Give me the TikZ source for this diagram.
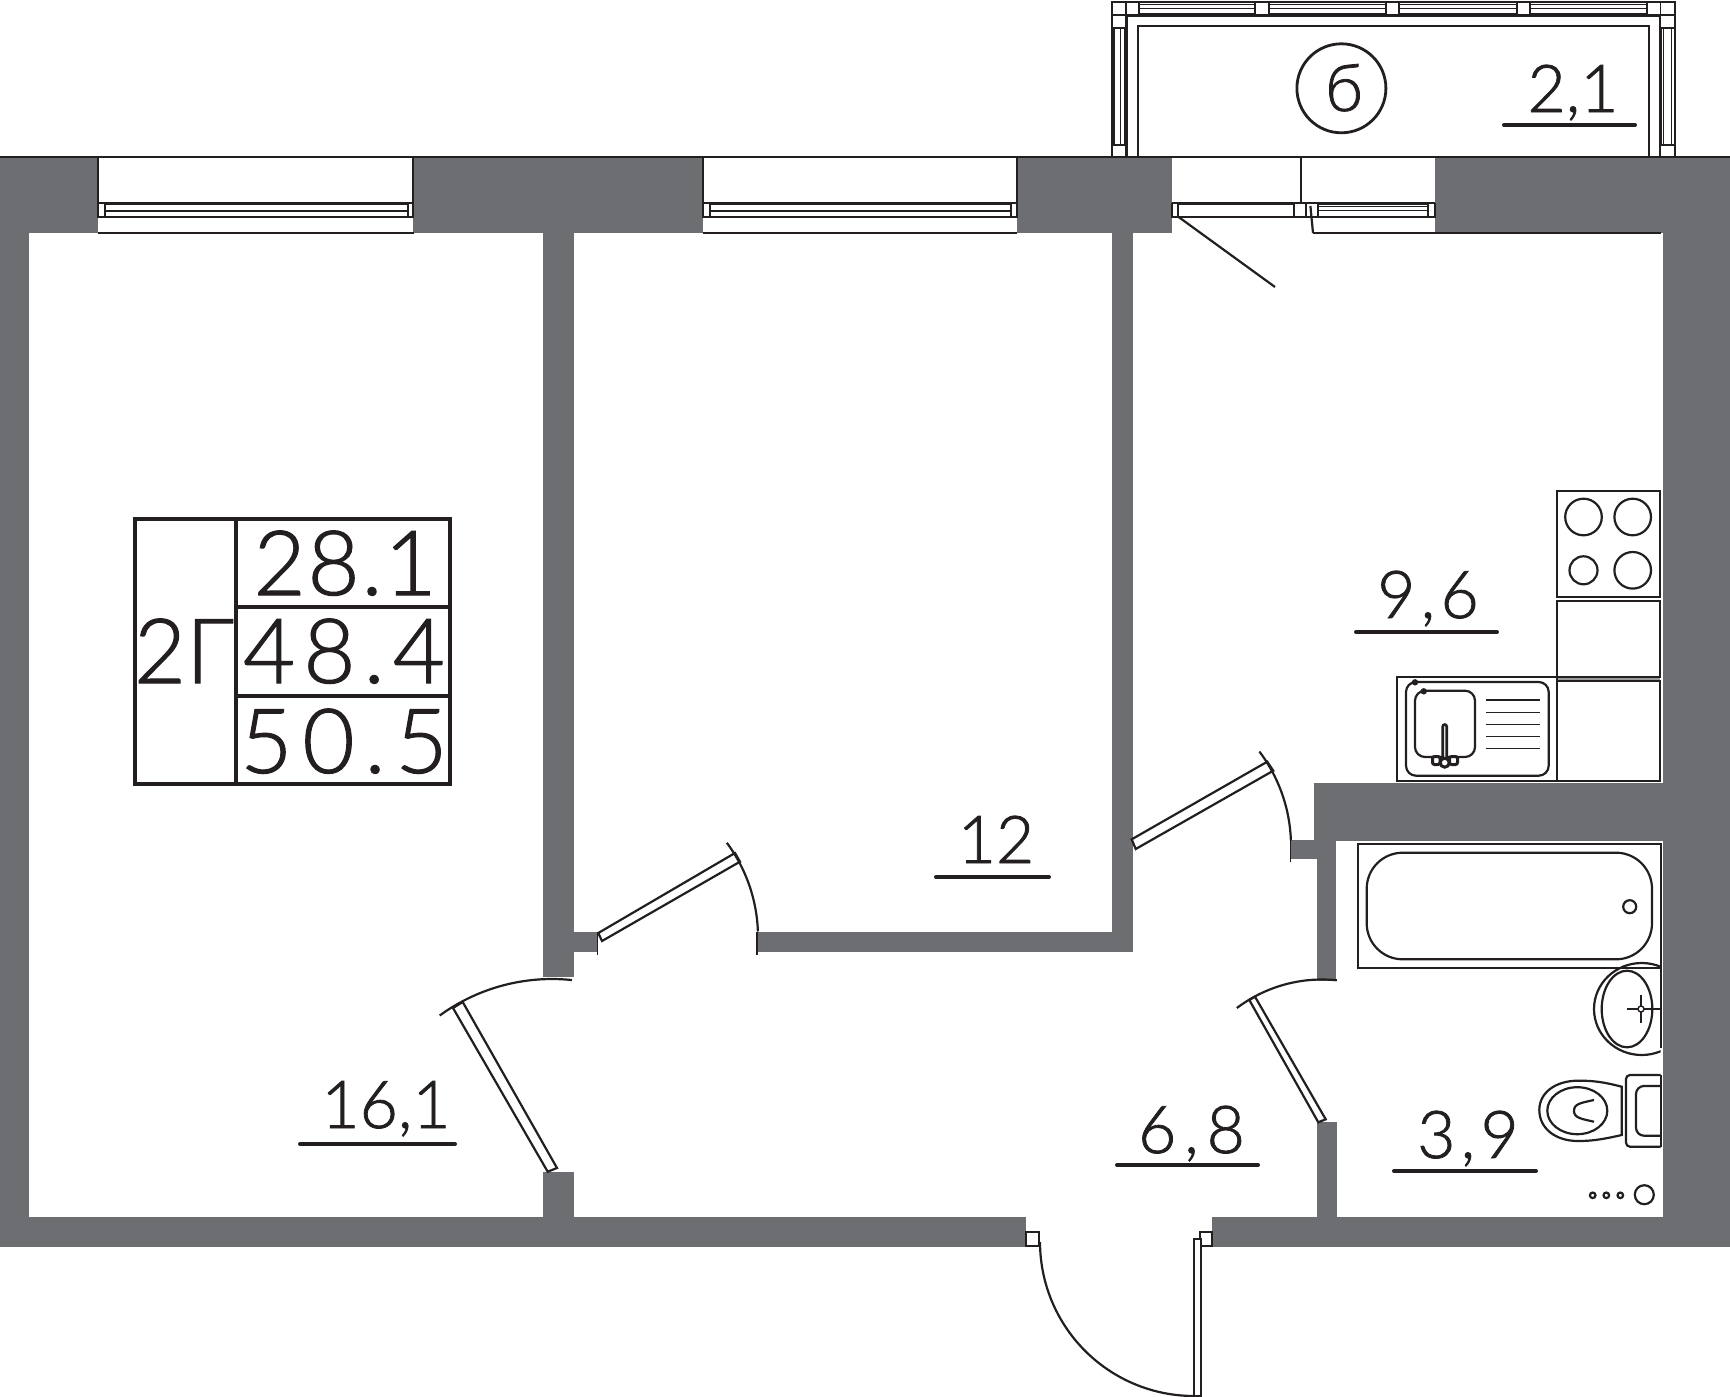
\documentclass[tikz,border=0pt]{standalone}
\usepackage{fontspec}
\newfontfamily\planfont[FakeBold=1.2]{Lato Light}
\def\spread#1{\addfontfeature{LetterSpace=#1}}
\definecolor{wallgray}{HTML}{6D6E71}
\definecolor{inkline}{HTML}{231F20}
\def\swingarc(#1,#2)(#3:#4:#5){\draw[thinline] plot[domain=#3:#4,samples=30,smooth] ({#1+#5*cos(\x)},{#2-#5*sin(\x)});}
\tikzset{
	wallfill/.style={fill=wallgray,draw=none},
	thinline/.style={draw=inkline,line width=1.1pt},
	hairline/.style={draw=inkline,line width=0.7pt},
	heavyline/.style={draw=inkline,line width=1.6pt},
	doorleaf/.style={draw=inkline,fill=white,line width=1.1pt},
	framepost/.style={draw=inkline,fill=white,line width=0.8pt},
	arealabel/.style={anchor=base,inner sep=0pt,text=inkline,font=\planfont\fontsize{33}{33}\selectfont},
	tablelabel/.style={anchor=base,inner sep=0pt,text=inkline,font=\planfont\fontsize{45}{45}\selectfont},
	underbar/.style={draw=inkline,line width=2pt,line cap=round},
	tableline/.style={draw=inkline,line width=1.9pt}
}
\begin{document}
\begin{tikzpicture}[x=0.5pt,y=-0.5pt]
			%%%%% FRAME %%%%%
			\useasboundingbox (0,0) rectangle (1730,1397);
			
			%%%%% BALCONY %%%%%
			\draw[thinline] (1112.4,157) -- (1112.4,2) -- (1675,2) -- (1675,157);
			\draw[heavyline] (1126,157) -- (1126,15) -- (1660.6,15) -- (1660.6,157);
			\draw[thinline] (1138,157) -- (1138,26) -- (1649,26) -- (1649,157);
			\draw[hairline] (1128,4.5) -- (1658,4.5);
			\draw[hairline] (1128,8.5) -- (1658,8.5);
			\draw[hairline] (1114.5,28) -- (1114.5,145);
			\draw[hairline] (1120.6,28) -- (1120.6,145);
			\draw[hairline] (1663.5,28) -- (1663.5,145);
			\draw[hairline] (1671.6,28) -- (1671.6,145);
			\draw[framepost] (1112.4,2) rectangle (1126,15);
			\draw[framepost] (1126,2) rectangle (1139,15);
			\draw[framepost] (1255,2) rectangle (1269,15);
			\draw[framepost] (1386,2) rectangle (1399,15);
			\draw[framepost] (1517,2) rectangle (1530,15);
			\draw[framepost] (1647,2) rectangle (1660.6,15);
			\draw[framepost] (1660.6,2) rectangle (1675,15);
			\draw[framepost] (1112.4,15) rectangle (1126,28);
			\draw[framepost] (1112.4,145) rectangle (1126,157);
			\draw[framepost] (1660.6,15) rectangle (1675,28);
			\draw[framepost] (1660.6,145) rectangle (1675,157);
			
			%%%%% WALLS %%%%%
			\fill[wallfill] (0,157) rectangle (98,233);
			\fill[wallfill] (413,157) rectangle (703,233);
			\fill[wallfill] (1017,157) rectangle (1172,233);
			\fill[wallfill] (1435,157) rectangle (1730,233);
			\fill[wallfill] (0,157) rectangle (29,1247);
			\fill[wallfill] (1663,157) rectangle (1730,1247);
			\fill[wallfill] (0,1217) rectangle (1026,1247);
			\fill[wallfill] (1212,1217) rectangle (1730,1247);
			\fill[wallfill] (543,233) rectangle (573.5,977);
			\fill[wallfill] (543,1171.7) rectangle (573.5,1247);
			\fill[wallfill] (573,932) rectangle (597.7,952);
			\fill[wallfill] (757,932) rectangle (1133,952);
			\fill[wallfill] (1112,233) rectangle (1133,952);
			\fill[wallfill] (1314,782.7) rectangle (1730,841);
			\fill[wallfill] (1316.7,841) rectangle (1335.7,981);
			\fill[wallfill] (1290.7,839.5) rectangle (1317,859);
			\fill[wallfill] (1317.3,1122) rectangle (1337,1247);
			\draw[thinline] (0,157) -- (1730,157);
			\draw[hairline] (1313,233) -- (1661,233);
			\draw[hairline] (597.7,932) -- (597.7,955);
			\draw[hairline] (757,932) -- (757,955);
			\draw[hairline] (1290.7,839) -- (1290.7,862);
			
			%%%%% WINDOWS %%%%%
			\draw[heavyline] (98,203.5) -- (413,203.5);
			\draw[framepost] (98,203.5) rectangle (105,217);
			\draw[framepost] (408,203.5) rectangle (413,217);
			\draw[thinline] (105,210.7) -- (408,210.7);
			\draw[thinline] (98,217) -- (413,217);
			\draw[hairline] (98,158) -- (98,203.5);
			\draw[hairline] (413,158) -- (413,203.5);
			\draw[hairline] (98,233) -- (414,233);
			
			\draw[heavyline] (703,203.5) -- (1017,203.5);
			\draw[framepost] (703,203.5) rectangle (710,217);
			\draw[framepost] (1011,203.5) rectangle (1017,217);
			\draw[thinline] (710,210.7) -- (1011,210.7);
			\draw[thinline] (703,217) -- (1017,217);
			\draw[hairline] (703,158) -- (703,203.5);
			\draw[hairline] (1017,158) -- (1017,203.5);
			\draw[hairline] (703,233) -- (1017,233);
			
			%%%%% BALCONY DOOR %%%%%
			\draw[thinline] (1300.6,158) -- (1300.6,203.5);
			\draw[heavyline] (1172,203.5) -- (1435,203.5);
			\draw[thinline] (1172,216.7) -- (1435,216.7);
			\draw[framepost] (1172,203.5) rectangle (1178,216.7);
			\draw[framepost] (1294,203.5) rectangle (1306,216.7);
			\draw[framepost] (1306,203.5) rectangle (1318,216.7);
			\draw[framepost] (1428,203.5) rectangle (1435,216.7);
			\draw[hairline] (1318,206.5) -- (1428,206.5);
			\draw[hairline] (1318,210.5) -- (1428,210.5);
			\draw[thinline] (1310.4,206) -- (1313,233);
			\draw[thinline] (1178.6,217) -- (1275,287);
			
			%%%%% DOORS %%%%%
			\draw[doorleaf] (547.7,1171.7) -- (557,1168) -- (462.7,1002) -- (453,1008) -- cycle;
			\swingarc(552,1170)(84:126:191)
			
			\draw[doorleaf] (598.3,933) -- (602,941) -- (740,861.7) -- (735,853) -- cycle;
			\swingarc(600,937)(2:36.6:158)
			
			\draw[doorleaf] (1131.7,839.3) -- (1135.7,849) -- (1273.3,770.7) -- (1267.3,761.7) -- cycle;
			\swingarc(1134,846)(2:37:157)
			
			\draw[doorleaf] (1318.3,1122.3) -- (1325.7,1119.3) -- (1255,996.7) -- (1249.3,1000) -- cycle;
			\swingarc(1322,1121)(84:127:141.5)
			
			\draw[framepost] (1026,1231.7) rectangle (1039,1246);
			\draw[framepost] (1200,1231.7) rectangle (1212,1246);
			\draw[doorleaf] (1194,1239) rectangle (1200.7,1395.7);
			\swingarc(1194,1242)(180:270:154)
			
			%%%%% KITCHEN %%%%%
			\draw[thinline] (1556.7,490.7) rectangle (1660,597);
			\draw[thinline] (1583.5,517) circle (18.3);
			\draw[thinline] (1632.7,517) circle (18.3);
			\draw[thinline] (1583.5,570.3) circle (14);
			\draw[thinline] (1632.7,570.3) circle (18.3);
			\fill[wallgray!70] (1556.7,676.7) rectangle (1660,680.7);
			\draw[thinline] (1556.7,601) rectangle (1660,676.7);
			\draw[thinline] (1556.7,680.7) rectangle (1660,780.7);
			\draw[thinline] (1396.7,676.7) rectangle (1556.7,780.7);
			\draw[thinline,rounded corners=5pt] (1406,682) rectangle (1548.7,775.7);
			\draw[thinline,rounded corners=5pt] (1415,690.7) rectangle (1475,757);
			\fill[inkline] (1415,682.3) circle (3.2);
			\fill[inkline] (1423.7,691.3) circle (3.2);
			\draw[hairline] (1485.7,700) -- (1540,700);
			\draw[hairline] (1485.7,712.3) -- (1540,712.3);
			\draw[hairline] (1485.7,724.3) -- (1540,724.3);
			\draw[hairline] (1485.7,736.3) -- (1540,736.3);
			\draw[hairline] (1485.7,748.3) -- (1540,748.3);
			\draw[thinline,line width=1.5pt,fill=white,rounded corners=1pt] (1432.5,756.5) rectangle (1440,764.5);
			\draw[thinline,line width=1.5pt,fill=white,rounded corners=1pt] (1449.5,756.5) rectangle (1457.5,764.5);
			\draw[thinline,line width=1.3pt,fill=white,rounded corners=1pt] (1442.7,724.5) rectangle (1446.7,762);
			\draw[thinline,line width=1.5pt,fill=white] (1444.7,762.7) circle (4.5);
			
			%%%%% BATH ROOM %%%%%
			\draw[thinline] (1357.7,844.3) rectangle (1660.7,968.3);
			\draw[thinline,rounded corners=18pt] (1366.7,852.7) rectangle (1652,959.3);
			\draw[thinline] (1629.7,906.7) circle (6.5);
			
			\begin{scope}
				\clip (1560,950) rectangle (1660.7,1070);
				\draw[thinline] (1641.7,1009) ellipse [x radius=47.7,y radius=46];
			\end{scope}
			\draw[thinline] (1660.7,968.3) -- (1660.7,1048);
			\draw[thinline] (1627,1009) ellipse [x radius=25.3,y radius=38.3];
			\draw[hairline] (1627.3,1009) -- (1660.7,1009);
			\draw[hairline] (1641,995) -- (1641,1022.7);
			\draw[hairline,fill=white] (1641,1009) circle (3);
			
			\draw[thinline,rounded corners=2pt] (1660.7,1075) -- (1626,1075) -- (1626,1146.7) -- (1660.7,1146.7);
			\draw[thinline,rounded corners=4pt] (1660.7,1086) -- (1636,1086) -- (1636,1135.7) -- (1660.7,1135.7);
			\draw[thinline] (1660.7,1075) -- (1660.7,1146.7);
			\draw[thinline] (1621.7,1086.7) .. controls (1600,1081) and (1590,1080.7) .. (1578,1080.7) .. controls (1555,1080.7) and (1539.3,1093) .. (1539.3,1110) .. controls (1539.3,1128) and (1555,1141) .. (1578,1141) .. controls (1590,1141) and (1600,1140) .. (1621.7,1135) -- cycle;
			\draw[thinline] (1577.3,1110.7) ellipse [x radius=30,y radius=23.5];
			\draw[thinline] (1594,1100) .. controls (1580,1103) and (1574,1104) .. (1574,1111) .. controls (1574,1118) and (1582,1119) .. (1594,1121.7);
			
			\draw[thinline] (1592.7,1195.3) circle (2.8);
			\draw[thinline] (1606.3,1195.3) circle (2.8);
			\draw[thinline] (1620.3,1195.3) circle (2.8);
			\draw[thinline] (1644.3,1194.7) circle (9.5);
			
			%%%%% AREA LABELS %%%%%
			\draw[thinline,line width=1.4pt] (1341.4,88.3) circle (44.5);
			\node[arealabel] (balconymark) at (1344,111) {б};
			\node[arealabel] (balconyarea) at (1573,112) {2,1};
			\draw[underbar] (1504,125) -- (1635,125);
			\node[arealabel] (bedarea) at (386,1128) {16,1};
			\draw[underbar] (300,1144) -- (455,1144);
			\node[arealabel] (livingarea) at (996,863) {12};
			\draw[underbar] (936,877) -- (1049,877);
			\node[arealabel] (hallarea) at (1191.5,1153) {\spread{12}6,8};
			\draw[underbar] (1117,1165) -- (1258,1165);
			\node[arealabel] (batharea) at (1468,1158) {\spread{8}3,9};
			\draw[underbar] (1394,1171) -- (1536,1171);
			\node[arealabel] (kitchenarea) at (1428,618) {\spread{8}9,6};
			\draw[underbar] (1356,632) -- (1497,632);
			
			%%%%% AREA TABLE %%%%%
			\draw[tableline] (135,519) rectangle (449.7,784);
			\draw[tableline] (235.7,519) -- (235.7,784);
			\draw[tableline] (235.7,606.7) -- (449.7,606.7);
			\draw[tableline] (235.7,695.7) -- (449.7,695.7);
			\node[tablelabel] (livingtotal) at (345,595) {\spread{2}28.1};
			\node[tablelabel] (flattotal) at (344,683) {\spread{9}48.4};
			\node[tablelabel] (grosstotal) at (344,773) {\spread{11}50.5};
			\node[tablelabel] (flattype) at (184,683) {2Г};
\end{tikzpicture}
\end{document}
